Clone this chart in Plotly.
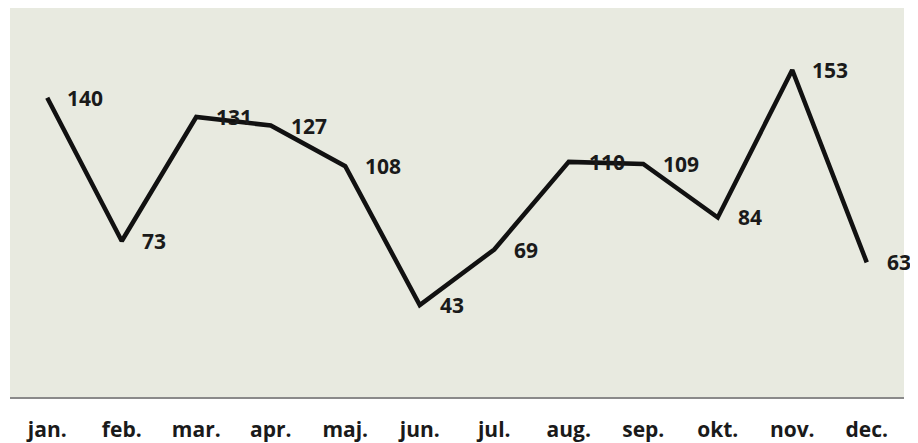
import plotly.graph_objects as go

months = ["jan.", "feb.", "mar.", "apr.", "maj.", "jun.", "jul.", "aug.", "sep.", "okt.", "nov.", "dec."]
values = [140, 73, 131, 127, 108, 43, 69, 110, 109, 84, 153, 63]

FONT = dict(family="Open Sans", size=21, color="#1a1a1a", weight="bold")

fig = go.Figure()
fig.add_trace(go.Scatter(
    x=months, y=values, mode="lines",
    line=dict(color="#111111", width=4.5),
    hoverinfo="skip", showlegend=False,
))
for m, v in zip(months, values):
    fig.add_annotation(
        x=m, y=v, text=str(v), showarrow=False,
        xanchor="left", yanchor="middle", xshift=18,
        font=FONT,
    )

fig.update_layout(
    width=918, height=443,
    margin=dict(l=2, r=22, t=0, b=54, autoexpand=False),
    paper_bgcolor="white",
    plot_bgcolor="#e8eae0",
    showlegend=False,
    xaxis=dict(
        type="category", showgrid=False, zeroline=False,
        showline=True, linecolor="#8a8a8a", linewidth=2,
        ticks="", ticklabelstandoff=13, automargin=False,
        tickfont=FONT,
        range=[-0.5, 11.5],
    ),
    yaxis=dict(
        range=[0, 182], showgrid=False, zeroline=False,
        showticklabels=False, showline=False, automargin=False,
    ),
)

fig.write_html("out.html")
